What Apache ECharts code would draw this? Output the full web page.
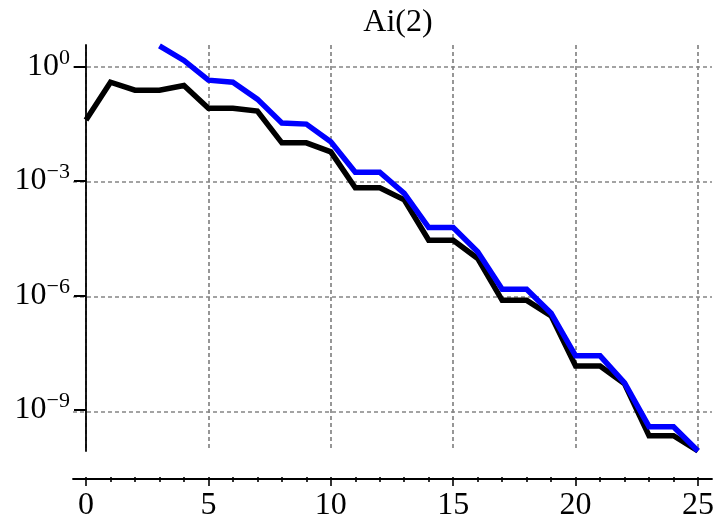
<!DOCTYPE html>
<html><head><meta charset="utf-8">
<script src="https://cdn.jsdelivr.net/npm/echarts@6/dist/echarts.min.js"></script>
<style>html,body{margin:0;padding:0;background:#fff}#c{width:717px;height:522px}</style>
</head><body><div id="c"></div>
<script>
// ---- data ----
const titleText = 'Ai(2)';
const xValues = [0,1,2,3,4,5,6,7,8,9,10,11,12,13,14,15,16,17,18,19,20,21,22,23,24,25];
const blackValues = [4.0e-2, 3.9e-1, 2.4e-1, 2.4e-1, 3.2e-1, 8.1e-2, 8.1e-2, 6.8e-2, 1.0e-2, 1.0e-2,
  5.8e-3, 6.6e-4, 6.6e-4, 3.2e-4, 2.8e-5, 2.8e-5, 9.3e-6, 7.4e-7, 7.4e-7, 2.9e-7,
  1.4e-8, 1.4e-8, 4.8e-9, 2.1e-10, 2.1e-10, 8.3e-11];
const blueValues = [null, null, null, 3.5, 1.45, 4.4e-1, 3.9e-1, 1.4e-1, 3.3e-2, 3.1e-2,
  1.07e-2, 1.7e-3, 1.7e-3, 4.7e-4, 6.0e-5, 6.0e-5, 1.4e-5, 1.45e-6, 1.45e-6, 3.4e-7,
  2.6e-8, 2.6e-8, 5.1e-9, 3.6e-10, 3.6e-10, 8.3e-11];
const yTickValues = [1e-9, 1e-6, 1e-3, 1];
const xTickLabels = [0, 5, 10, 15, 20, 25];
const yMin = 8.3e-11, yMax = 3.68;

// ---- chart ----
const FONT = 'Liberation Serif';
const chart = echarts.init(document.getElementById('c'), null, {renderer: 'canvas'});
const pairs = arr => xValues.map((x, i) => [x, arr[i]]);
const grid = {color: '#858585', type: [4, 3], width: 1.7};
const yFmt = v => {
  const e = Math.round(Math.log10(v));
  return '{b|10}{s|' + (e < 0 ? '\u2212' : '') + Math.abs(e) + '}';
};
chart.setOption({
  animation: false,
  backgroundColor: '#fff',
  title: {text: titleText, left: 393, textAlign: 'center', top: 2,
    textStyle: {fontFamily: FONT, fontSize: 32, fontWeight: 'normal', color: '#000'}},
  grid: [
    {left: 86, right: 17.5, top: 45, bottom: 69},
    {left: 73, right: 5, top: 45, bottom: 69}
  ],
  xAxis: [
    {gridIndex: 0, type: 'value', min: 0, max: 25, interval: 5, offset: 26,
      axisLine: {show: false, onZero: false},
      axisTick: {show: true, length: 9, lineStyle: {color: '#000', width: 1.6}},
      minorTick: {show: true, splitNumber: 5, length: 5, lineStyle: {color: '#000', width: 1.6}},
      axisLabel: {fontFamily: FONT, fontSize: 32, color: '#000', margin: 13,
        customValues: xTickLabels},
      splitLine: {show: true, lineStyle: grid}},
    {gridIndex: 1, type: 'value', min: 0, max: 1, offset: 26,
      axisLine: {show: true, onZero: false, lineStyle: {color: '#000', width: 1.8}},
      axisTick: {show: false}, axisLabel: {show: false}, splitLine: {show: false}}
  ],
  yAxis: [
    {gridIndex: 0, type: 'log', logBase: 10, min: yMin, max: yMax,
      axisLine: {show: true, onZero: false, lineStyle: {color: '#000', width: 1.8}},
      axisTick: {show: true, length: 12, customValues: yTickValues, lineStyle: {color: '#000', width: 2}},
      axisLabel: {customValues: yTickValues, formatter: yFmt, margin: 16,
        rich: {
          b: {fontFamily: FONT, fontSize: 32, color: '#000'},
          s: {fontFamily: FONT, fontSize: 22, color: '#000', padding: [0, 0, 17, 0]}
        }},
      splitLine: {show: false}},
    {gridIndex: 1, type: 'log', logBase: 10, min: yMin, max: yMax,
      axisLine: {show: false},
      axisTick: {show: false, customValues: yTickValues},
      axisLabel: {show: false, customValues: yTickValues},
      splitLine: {show: true, lineStyle: grid}}
  ],
  series: [
    {type: 'line', xAxisIndex: 0, yAxisIndex: 0, data: pairs(blackValues), showSymbol: false,
      lineStyle: {color: '#000', width: 5.5, join: 'miter'}, z: 3},
    {type: 'line', xAxisIndex: 0, yAxisIndex: 0, data: pairs(blueValues), showSymbol: false,
      lineStyle: {color: '#0000ff', width: 5.5, join: 'miter'}, z: 4}
  ]
});
</script></body></html>
